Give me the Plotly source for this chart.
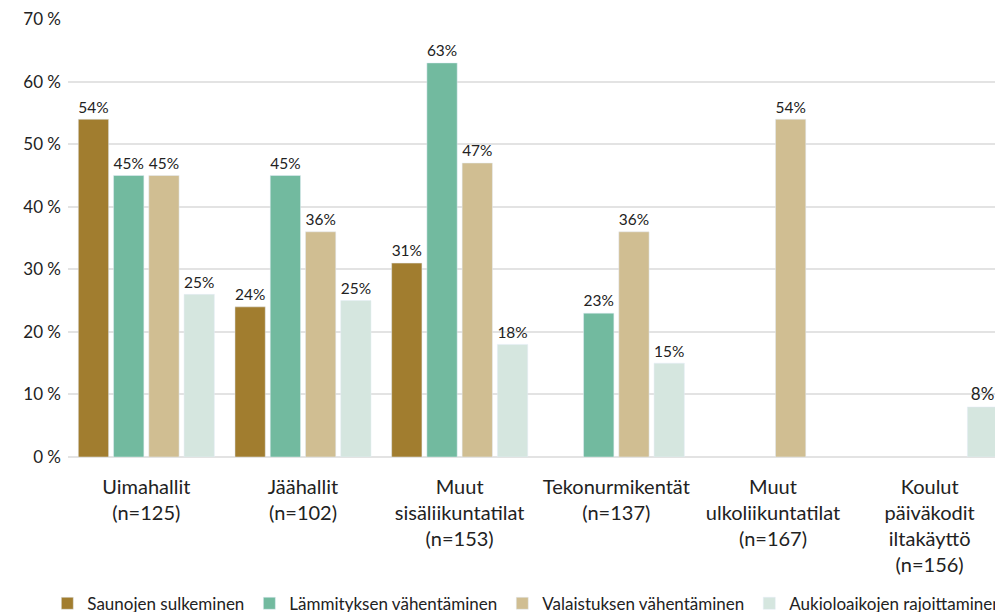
import plotly.graph_objects as go

categories = [
    "Uimahallit<br>(n=125)",
    "Jäähallit<br>(n=102)",
    "Muut<br>sisäliikuntatilat<br>(n=153)",
    "Tekonurmikentät<br>(n=137)",
    "Muut<br>ulkoliikuntatilat<br>(n=167)",
    "Koulut<br>päiväkodit<br>iltakäyttö<br>(n=156)",
]
series_names = [
    "Saunojen sulkeminen",
    "Lämmityksen vähentäminen",
    "Valaistuksen vähentäminen",
    "Aukioloaikojen rajoittaminen",
]
saunojen = [54, 24, 31, None, None, None]
lammitys = [45, 45, 63, 23, None, None]
valaistus = [45, 36, 47, 36, 54, None]
aukiolo = [26, 25, 18, 15, None, 8]

saunojen_lbl = ["54%", "24%", "31%", "", "", ""]
lammitys_lbl = ["45%", "45%", "63%", "23%", "", ""]
valaistus_lbl = ["45%", "36%", "47%", "36%", "54%", ""]
aukiolo_lbl = ["25%", "25%", "18%", "15%", "", "8%"]

y_ticks = [0, 10, 20, 30, 40, 50, 60, 70]

colors = ["#A17D2F", "#72BA9F", "#D0BE92", "#D5E6DF"]

fig = go.Figure()
for name, vals, lbls, col in zip(
    series_names,
    [saunojen, lammitys, valaistus, aukiolo],
    [saunojen_lbl, lammitys_lbl, valaistus_lbl, aukiolo_lbl],
    colors,
):
    fig.add_trace(go.Bar(
        x=categories, y=vals, name=name, marker_color=col,
        text=lbls, textposition="outside", cliponaxis=False,
        textfont=dict(size=17, color="#222222", family="Lato"),
    ))

fig.update_layout(
    width=1003, height=612,
    margin=dict(l=60, r=3, t=11, b=163, autoexpand=False),
    plot_bgcolor="white", paper_bgcolor="white",
    barmode="group", bargap=0.1, bargroupgap=0.14,
    font=dict(family="Lato", size=17, color="#222222"),
    showlegend=True,
    legend=dict(orientation="h", x=-0.022, xanchor="left", y=-0.335, yanchor="middle",
                font=dict(size=17, color="#222222"), itemwidth=30,
                tracegroupgap=0, traceorder="normal"),
    uniformtext=dict(mode=False),
)
fig.update_xaxes(showgrid=False, showline=False, ticks="", automargin=False,
                 tickfont=dict(size=20), ticklabelstandoff=16)
fig.update_yaxes(range=[0, 70.02], tickmode="array", tickvals=y_ticks,
                 ticktext=[f"{v} %" for v in y_ticks], showgrid=True,
                 gridcolor="#E3E3E3", gridwidth=1.5, zeroline=True,
                 zerolinecolor="#E3E3E3", zerolinewidth=1.5, automargin=False,
                 ticklabeloverflow="allow",
                 tickfont=dict(size=17), ticklabelstandoff=6)

fig.write_html("out.html")
